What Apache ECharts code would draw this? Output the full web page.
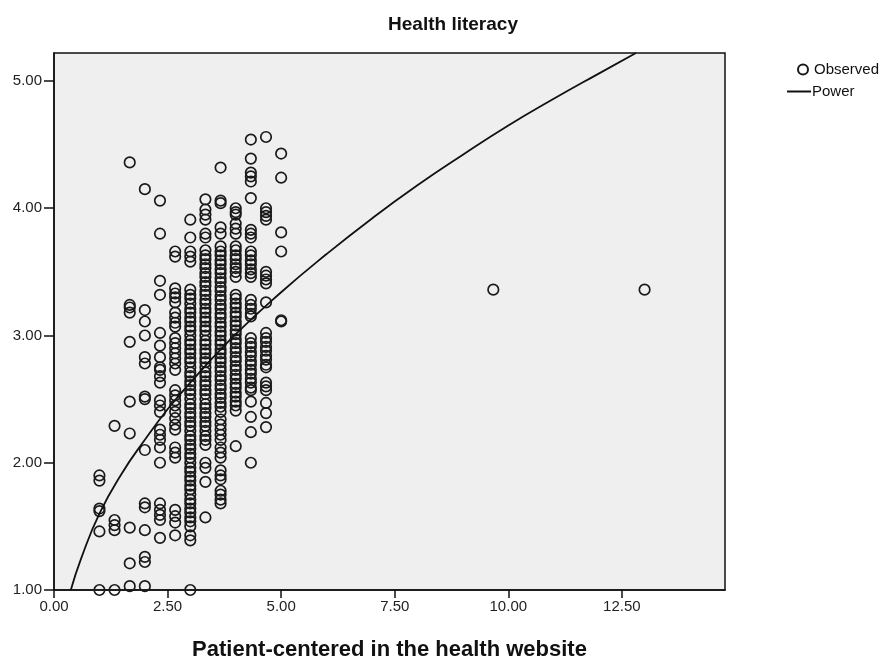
<!DOCTYPE html>
<html>
<head>
<meta charset="utf-8">
<script src="https://cdn.jsdelivr.net/npm/echarts@6/dist/echarts.min.js"></script>
<style>
html,body{margin:0;padding:0;background:#fff;}
#chart{width:894px;height:662px;}
</style>
</head>
<body>
<div id="chart"></div>
<script>
// ---- Data ----
const titleText = 'Health literacy';
const xAxisTitle = 'Patient-centered in the health website';
const xTicks = [0, 2.5, 5, 7.5, 10, 12.5];
const yTicks = [1, 2, 3, 4, 5];

// Observed values grouped by x column
const col_1_00 = [1.90, 1.86, 1.64, 1.62, 1.46, 1.00];
const col_1_33 = [2.29, 1.55, 1.51, 1.47, 1.00];
const col_1_67 = [4.36, 3.24, 3.22, 3.18, 2.95, 2.48, 2.23, 1.49, 1.21, 1.03];
const col_2_00 = [4.15, 3.20, 3.11, 3.00, 2.83, 2.78, 2.52, 2.50, 2.10, 1.68, 1.65, 1.47, 1.26, 1.22, 1.03];
const col_2_33 = [4.06, 3.80, 3.43, 3.32, 3.02, 2.92, 2.83, 2.75, 2.73, 2.68, 2.63, 2.49, 2.45, 2.40, 2.26, 2.22, 2.18, 2.12, 2.00, 1.68, 1.63, 1.59, 1.55, 1.41];
const col_2_67 = [3.66, 3.62, 3.37, 3.33, 3.30, 3.26, 3.18, 3.14, 3.10, 3.07, 2.98, 2.94, 2.90, 2.86, 2.82, 2.78, 2.73, 2.57, 2.53, 2.49, 2.45, 2.40, 2.35, 2.30, 2.26, 2.12, 2.08, 2.04, 1.63, 1.58, 1.53, 1.43];
const col_3_00 = [3.91, 3.77, 3.66, 3.62, 3.58, 3.36, 3.32, 3.29, 3.25, 3.21, 3.18, 3.14, 3.11, 3.07, 3.04, 3.00, 2.96, 2.93, 2.89, 2.86, 2.82, 2.79, 2.75, 2.71, 2.68, 2.64, 2.61, 2.57, 2.54, 2.50, 2.46, 2.43, 2.39, 2.36, 2.32, 2.29, 2.25, 2.21, 2.18, 2.14, 2.11, 2.07, 2.04, 2.00, 1.96, 1.93, 1.89, 1.86, 1.82, 1.79, 1.75, 1.71, 1.68, 1.64, 1.61, 1.57, 1.54, 1.50, 1.43, 1.39, 1.00];
const col_3_33 = [4.07, 3.99, 3.95, 3.91, 3.80, 3.77, 3.67, 3.63, 3.60, 3.56, 3.53, 3.49, 3.46, 3.42, 3.39, 3.35, 3.32, 3.28, 3.25, 3.21, 3.18, 3.14, 3.11, 3.07, 3.04, 3.00, 2.96, 2.93, 2.89, 2.86, 2.82, 2.79, 2.75, 2.71, 2.68, 2.64, 2.61, 2.57, 2.54, 2.50, 2.46, 2.43, 2.39, 2.36, 2.32, 2.29, 2.25, 2.21, 2.18, 2.14, 2.00, 1.96, 1.85, 1.57];
const col_3_67 = [4.32, 4.06, 4.04, 3.85, 3.80, 3.70, 3.66, 3.63, 3.59, 3.56, 3.52, 3.49, 3.45, 3.42, 3.38, 3.35, 3.31, 3.28, 3.24, 3.21, 3.17, 3.14, 3.10, 3.07, 3.03, 3.00, 2.96, 2.93, 2.89, 2.86, 2.82, 2.79, 2.75, 2.72, 2.68, 2.65, 2.61, 2.58, 2.54, 2.51, 2.47, 2.44, 2.40, 2.34, 2.30, 2.26, 2.22, 2.18, 2.12, 2.08, 2.04, 1.94, 1.90, 1.87, 1.78, 1.75, 1.71, 1.68];
const col_4_00 = [4.00, 3.97, 3.95, 3.88, 3.84, 3.80, 3.70, 3.67, 3.63, 3.60, 3.56, 3.53, 3.50, 3.46, 3.32, 3.29, 3.25, 3.22, 3.18, 3.15, 3.11, 3.08, 3.04, 3.01, 2.97, 2.94, 2.90, 2.87, 2.83, 2.80, 2.76, 2.73, 2.69, 2.66, 2.62, 2.59, 2.55, 2.52, 2.48, 2.45, 2.41, 2.13];
const col_4_33 = [4.54, 4.39, 4.28, 4.25, 4.21, 4.08, 3.83, 3.80, 3.77, 3.66, 3.63, 3.59, 3.56, 3.52, 3.49, 3.46, 3.28, 3.24, 3.21, 3.17, 3.15, 2.98, 2.94, 2.91, 2.87, 2.84, 2.80, 2.77, 2.73, 2.70, 2.66, 2.63, 2.59, 2.57, 2.48, 2.36, 2.24, 2.00];
const col_4_67 = [4.56, 4.00, 3.97, 3.94, 3.91, 3.50, 3.47, 3.44, 3.41, 3.26, 3.02, 2.98, 2.95, 2.91, 2.88, 2.84, 2.81, 2.77, 2.75, 2.63, 2.60, 2.57, 2.47, 2.39, 2.28];
const col_5_00 = [4.43, 4.24, 3.81, 3.66, 3.12, 3.11];
const outlierX = [9.67, 13.0];
const outlierY = [3.36, 3.36];

const columnX = [1.0, 1.333, 1.667, 2.0, 2.333, 2.667, 3.0, 3.333, 3.667, 4.0, 4.333, 4.667, 5.0];
const columnY = [col_1_00, col_1_33, col_1_67, col_2_00, col_2_33, col_2_67, col_3_00, col_3_33, col_3_67, col_4_00, col_4_33, col_4_67, col_5_00];

// Fitted "Power" curve
const powerX = [0.37, 0.6, 1.0, 1.5, 2.0, 2.5, 3.0, 4.0, 5.0, 6.0, 7.0, 8.0, 9.0, 10.0, 11.0, 12.0, 12.81];
const powerY = [1.00, 1.25, 1.60, 1.92, 2.18, 2.42, 2.63, 3.01, 3.34, 3.64, 3.92, 4.18, 4.42, 4.65, 4.86, 5.06, 5.22];

// ---- Build series data ----
const observed = [];
columnX.forEach((x, i) => columnY[i].forEach(y => observed.push([x, y])));
outlierX.forEach((x, i) => observed.push([x, outlierY[i]]));
const power = powerX.map((x, i) => [x, powerY[i]]);

const fontFam = '"Liberation Sans", Arial, sans-serif';
const chart = echarts.init(document.getElementById('chart'), null, {renderer: 'canvas'});
chart.setOption({
  animation: false,
  backgroundColor: '#ffffff',
  title: {
    text: titleText,
    left: 448, top: 10, textAlign: 'center',
    textStyle: {fontFamily: fontFam, fontSize: 19, fontWeight: 'bold', color: '#111'}
  },
  legend: [
    {
      data: ['Observed'], orient: 'vertical', left: 792, top: 57,
      itemWidth: 10, itemHeight: 10, itemGap: 4,
      textStyle: {fontFamily: fontFam, fontSize: 15, color: '#111', padding: [0, 0, 0, 1]}
    },
    {
      data: [{name: 'Power', icon: 'rect'}], orient: 'vertical', left: 782, top: 79,
      itemWidth: 24, itemHeight: 2, itemGap: 2,
      textStyle: {fontFamily: fontFam, fontSize: 15, color: '#111', padding: [0, 0, 0, -4]}
    }
  ],
  grid: {
    left: 54, top: 53, right: 169, bottom: 72,
    show: true, backgroundColor: '#efefef', borderColor: '#111', borderWidth: 1.5,
    containLabel: false, outerBoundsMode: 'none'
  },
  xAxis: {
    type: 'value', min: 0, max: 14.77,
    name: xAxisTitle, nameLocation: 'middle', nameGap: 49,
    nameTextStyle: {fontFamily: fontFam, fontSize: 22, fontWeight: 'bold', color: '#111'},
    axisLine: {show: true, onZero: false, lineStyle: {color: '#111', width: 1.5}},
    axisTick: {show: true, customValues: xTicks, length: 8, lineStyle: {color: '#111', width: 1.5}},
    axisLabel: {customValues: xTicks, fontFamily: fontFam, fontSize: 15, color: '#222', margin: 9,
      formatter: v => v.toFixed(2)},
    splitLine: {show: false}
  },
  yAxis: {
    type: 'value', min: 1, max: 5.22,
    axisLine: {show: true, onZero: false, lineStyle: {color: '#111', width: 1.5}},
    axisTick: {show: true, customValues: yTicks, length: 10, lineStyle: {color: '#111', width: 1.5}},
    axisLabel: {customValues: yTicks, fontFamily: fontFam, fontSize: 15, color: '#222', margin: 12,
      formatter: v => v.toFixed(2)},
    splitLine: {show: false}
  },
  series: [
    {
      name: 'Observed', type: 'scatter', data: observed,
      symbol: 'circle', symbolSize: 10.5,
      itemStyle: {color: 'rgba(0,0,0,0)', borderColor: '#1a1a1a', borderWidth: 1.7, opacity: 1},
      z: 2
    },
    {
      name: 'Power', type: 'line', data: power, smooth: true,
      showSymbol: false, symbol: 'none',
      lineStyle: {color: '#111', width: 1.8},
      itemStyle: {color: '#111'},
      z: 3
    }
  ]
});
</script>
</body>
</html>
